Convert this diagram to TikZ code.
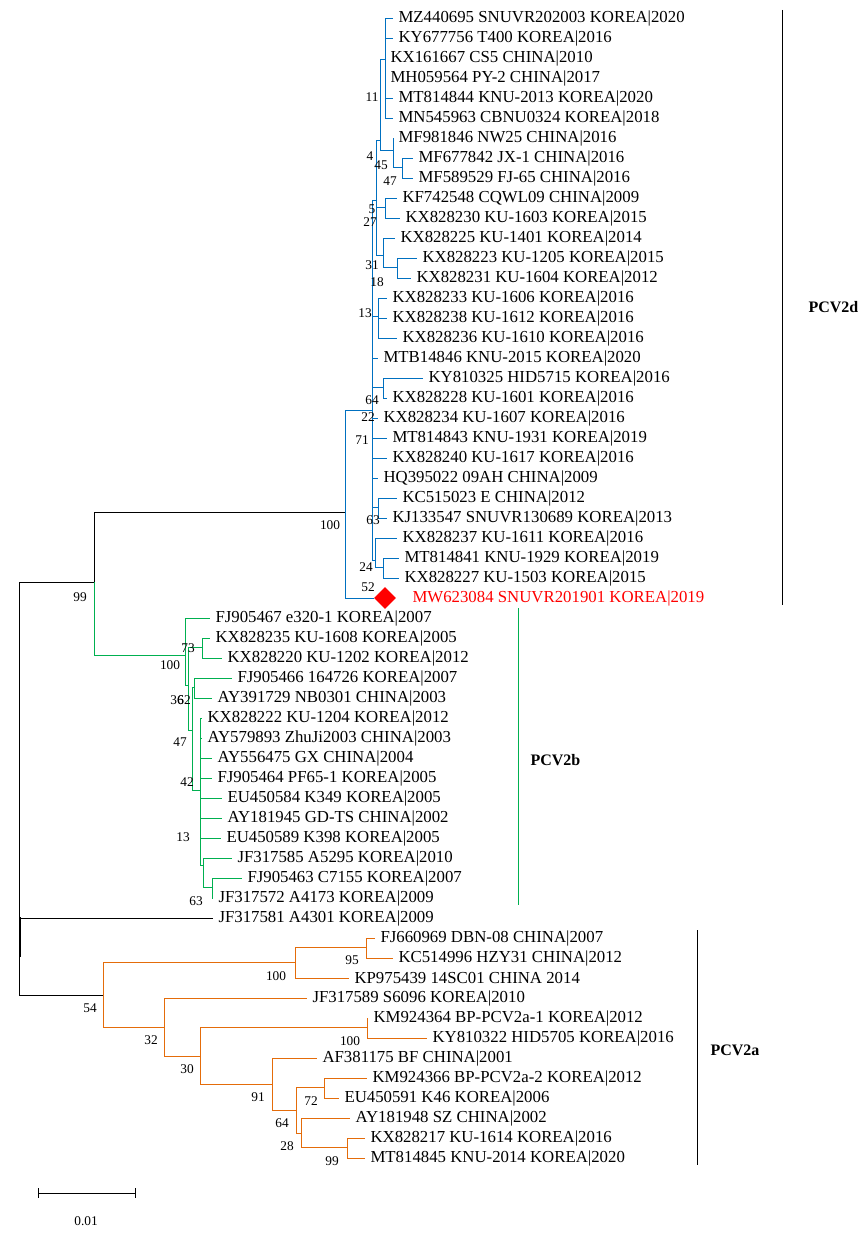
\documentclass[tikz,border=0pt]{standalone}
\usepackage{fontspec}
\setmainfont{Liberation Serif}
\usetikzlibrary{shapes.geometric}
\definecolor{cd}{HTML}{0070C0}
\definecolor{cb}{HTML}{00B050}
\definecolor{ca}{HTML}{E46C0A}
\newcommand\myleaf[3]{\node[leaf] (L#1) at (#2,{17+20*#1}) {#3};}
\newcommand\mybr[2]{\draw (#1) |- ([xshift=-3.5pt]L#2.west);}
\begin{document}
\begin{tikzpicture}[x=0.75pt,y=-0.75pt,
 leaf/.style={anchor=west,inner sep=0pt,yshift=-1pt,font=\fontsize{12.6}{13}\selectfont},
 bs/.style={inner sep=0pt,font=\fontsize{10}{10}\selectfont},
 clab/.style={inner sep=0pt,font=\bfseries\fontsize{12}{12}\selectfont},
 line width=0.75pt]
\useasboundingbox (0,0) rectangle (860,1238);
% leaves
\myleaf{0}{398}{MZ440695 SNUVR202003 KOREA|2020}
\myleaf{1}{398}{KY677756 T400 KOREA|2016}
\myleaf{2}{390}{KX161667 CS5 CHINA|2010}
\myleaf{3}{390}{MH059564 PY-2 CHINA|2017}
\myleaf{4}{398}{MT814844 KNU-2013 KOREA|2020}
\myleaf{5}{398}{MN545963 CBNU0324 KOREA|2018}
\myleaf{6}{398}{MF981846 NW25 CHINA|2016}
\myleaf{7}{418}{MF677842 JX-1 CHINA|2016}
\myleaf{8}{418}{MF589529 FJ-65 CHINA|2016}
\myleaf{9}{402}{KF742548 CQWL09 CHINA|2009}
\myleaf{10}{405}{KX828230 KU-1603 KOREA|2015}
\myleaf{11}{400}{KX828225 KU-1401 KOREA|2014}
\myleaf{12}{422}{KX828223 KU-1205 KOREA|2015}
\myleaf{13}{416}{KX828231 KU-1604 KOREA|2012}
\myleaf{14}{392}{KX828233 KU-1606 KOREA|2016}
\myleaf{15}{392}{KX828238 KU-1612 KOREA|2016}
\myleaf{16}{402}{KX828236 KU-1610 KOREA|2016}
\myleaf{17}{383}{MTB14846 KNU-2015 KOREA|2020}
\myleaf{18}{428}{KY810325 HID5715 KOREA|2016}
\myleaf{19}{392}{KX828228 KU-1601 KOREA|2016}
\myleaf{20}{383}{KX828234 KU-1607 KOREA|2016}
\myleaf{21}{392}{MT814843 KNU-1931 KOREA|2019}
\myleaf{22}{392}{KX828240 KU-1617 KOREA|2016}
\myleaf{23}{383}{HQ395022 09AH CHINA|2009}
\myleaf{24}{402}{KC515023 E CHINA|2012}
\myleaf{25}{392}{KJ133547 SNUVR130689 KOREA|2013}
\myleaf{26}{402}{KX828237 KU-1611 KOREA|2016}
\myleaf{27}{404}{MT814841 KNU-1929 KOREA|2019}
\myleaf{28}{404}{KX828227 KU-1503 KOREA|2015}
\node[leaf,text=red] (L29) at (412,597) {MW623084 SNUVR201901 KOREA|2019};
\node[diamond,fill=red,inner sep=0pt,minimum size=22pt*0.75] (dia) at (385,598) {};
\myleaf{30}{215}{FJ905467 e320-1 KOREA|2007}
\myleaf{31}{215}{KX828235 KU-1608 KOREA|2005}
\myleaf{32}{227}{KX828220 KU-1202 KOREA|2012}
\myleaf{33}{237}{FJ905466 164726 KOREA|2007}
\myleaf{34}{217}{AY391729 NB0301 CHINA|2003}
\myleaf{35}{207}{KX828222 KU-1204 KOREA|2012}
\myleaf{36}{207}{AY579893 ZhuJi2003 CHINA|2003}
\myleaf{37}{217}{AY556475 GX CHINA|2004}
\myleaf{38}{217}{FJ905464 PF65-1 KOREA|2005}
\myleaf{39}{227}{EU450584 K349 KOREA|2005}
\myleaf{40}{227}{AY181945 GD-TS CHINA|2002}
\myleaf{41}{226}{EU450589 K398 KOREA|2005}
\myleaf{42}{237}{JF317585 A5295 KOREA|2010}
\myleaf{43}{247}{FJ905463 C7155 KOREA|2007}
\myleaf{44}{218}{JF317572 A4173 KOREA|2009}
\myleaf{45}{218}{JF317581 A4301 KOREA|2009}
\myleaf{46}{380}{FJ660969 DBN-08 CHINA|2007}
\myleaf{47}{398}{KC514996 HZY31 CHINA|2012}
\myleaf{48}{354}{KP975439 14SC01 CHINA 2014}
\myleaf{49}{312}{JF317589 S6096 KOREA|2010}
\myleaf{50}{373}{KM924364 BP-PCV2a-1 KOREA|2012}
\myleaf{51}{432}{KY810322 HID5705 KOREA|2016}
\myleaf{52}{322}{AF381175 BF CHINA|2001}
\myleaf{53}{372}{KM924366 BP-PCV2a-2 KOREA|2012}
\myleaf{54}{344}{EU450591 K46 KOREA|2006}
\myleaf{55}{355}{AY181948 SZ CHINA|2002}
\myleaf{56}{370}{KX828217 KU-1614 KOREA|2016}
\myleaf{57}{370}{MT814845 KNU-2014 KOREA|2020}
% internal coordinates
\coordinate (r) at (19,780);
\coordinate (n99) at (94,582);
\coordinate (d100) at (345,512);
\coordinate (d71) at (372,410);
\coordinate (u) at (376,200);
\coordinate (u1) at (380,140);
\coordinate (n11) at (385,60);
\coordinate (n45) at (393,150);
\coordinate (n47) at (402,167);
\coordinate (n27) at (385,207);
\coordinate (n31) at (383,255);
\coordinate (n18) at (397,267);
\coordinate (n13) at (378,316);
\coordinate (n64) at (383,387);
\coordinate (n63) at (378,507);
\coordinate (n24) at (375,560);
\coordinate (n52) at (383,567);
\coordinate (b100) at (185,655);
\coordinate (b2) at (188,685);
\coordinate (b73) at (202,647);
\coordinate (b3) at (192,730);
\coordinate (b62) at (194,687);
\coordinate (b42) at (200,790);
\coordinate (b13) at (203,865);
\coordinate (b63) at (212,887);
\coordinate (a54) at (103,995);
\coordinate (a100) at (295,962);
\coordinate (a95) at (366,947);
\coordinate (a32) at (164,1027);
\coordinate (a30) at (200,1056);
\coordinate (a100b) at (367,1027);
\coordinate (a91) at (272,1084);
\coordinate (a64) at (296,1110);
\coordinate (a72) at (324,1087);
\coordinate (a28) at (301,1133);
\coordinate (a99) at (347,1147);
% root (black)
\draw (r) |- (n99); \draw (r) |- (a54); \mybr{r}{45}
\draw[line width=2pt] (20,917) -- (20,957);
\draw (n99) |- (d100);
% PCV2d
\begin{scope}[color=cd]
\draw (d100) |- (d71); \draw (d100) |- (dia.west);
\draw (d71) |- (u); \draw (d71) |- (n13); \draw (d71) |- (n64);
\draw (d71) |- (n63); \draw (d71) |- (n24);
\mybr{d71}{17}\mybr{d71}{20}\mybr{d71}{21}\mybr{d71}{22}\mybr{d71}{23}
\draw (u) |- (u1); \draw (u) |- (n31); \draw (u) |- (n27);
\draw (u1) |- (n11); \draw (u1) |- (n45);
\mybr{n11}{0}\mybr{n11}{1}\mybr{n11}{2}\mybr{n11}{3}\mybr{n11}{4}\mybr{n11}{5}
\mybr{n45}{6}\draw (n45) |- (n47);
\mybr{n47}{7}\mybr{n47}{8}
\mybr{n27}{9}\mybr{n27}{10}
\mybr{n31}{11}\draw (n31) |- (n18);
\mybr{n18}{12}\mybr{n18}{13}
\mybr{n13}{14}\mybr{n13}{15}\mybr{n13}{16}
\mybr{n64}{18}\mybr{n64}{19}
\mybr{n63}{24}\mybr{n63}{25}
\mybr{n24}{26}\draw (n24) |- (n52);
\mybr{n52}{27}\mybr{n52}{28}
\end{scope}
% PCV2b
\begin{scope}[color=cb]
\draw (n99) |- (b100);
\mybr{b100}{30}\draw (b100) |- (b2);
\draw (b2) |- (b73); \draw (b2) |- (b3);
\mybr{b73}{31}\mybr{b73}{32}
\draw (b3) |- (b62); \draw (b3) |- (b42);
\mybr{b62}{33}\mybr{b62}{34}
\mybr{b42}{35}\mybr{b42}{36}\mybr{b42}{37}\mybr{b42}{38}\mybr{b42}{39}\mybr{b42}{40}\mybr{b42}{41}
\draw (b42) |- (b13);
\mybr{b13}{42}\draw (b13) |- (b63);
\mybr{b63}{43}\mybr{b63}{44}
\end{scope}
% PCV2a
\begin{scope}[color=ca]
\draw (a54) |- (a100); \draw (a54) |- (a32);
\draw (a100) |- (a95); \mybr{a100}{48}
\mybr{a95}{46}\mybr{a95}{47}
\mybr{a32}{49}\draw (a32) |- (a30);
\draw (a30) |- (a100b); \draw (a30) |- (a91);
\mybr{a100b}{50}\mybr{a100b}{51}
\mybr{a91}{52}\draw (a91) |- (a64);
\draw (a64) |- (a72); \draw (a64) |- (a28);
\mybr{a72}{53}\mybr{a72}{54}
\mybr{a28}{55}\draw (a28) |- (a99);
\mybr{a99}{56}\mybr{a99}{57}
\end{scope}
% bootstrap labels
\foreach \t/\x/\y in {11/372/97,4/370/156,45/381/165,47/390/181,5/372/209,27/370/222,31/372/265,18/377/282,13/365/313,64/372/400,22/368/417,71/362/440,63/373/520,24/366/567,52/368/587,100/330/525,99/80/597,
100/170/665,73/188/648,36/177/700,62/184/700,47/180/742,42/187/782,13/183/837,63/196/901,
54/90/1008,100/276/976,95/352/960,32/151/1040,30/187/1069,100/350/1041,91/258/1097,72/311/1101,64/282/1123,28/287/1146,99/332/1161}
 \node[bs] (bs\x-\y) at (\x,\y) {\t};
% clade bars
\draw (782,10) -- (782,605);
\node[clab,anchor=west] (c2d) at (808,307) {PCV2d};
\draw[cb] (518,608) -- (518,905);
\node[clab,anchor=west] (c2b) at (530,760) {PCV2b};
\draw[line width=0.5pt] (697,930) -- (697,1165);
\node[clab,anchor=west] (c2a) at (710,1050) {PCV2a};
% scale bar
\draw (38,1193) -- (135,1193);
\draw (38,1188) -- (38,1198); \draw (135,1188) -- (135,1198);
\node[bs] (sc) at (86,1221) {0.01};
\end{tikzpicture}
\end{document}
